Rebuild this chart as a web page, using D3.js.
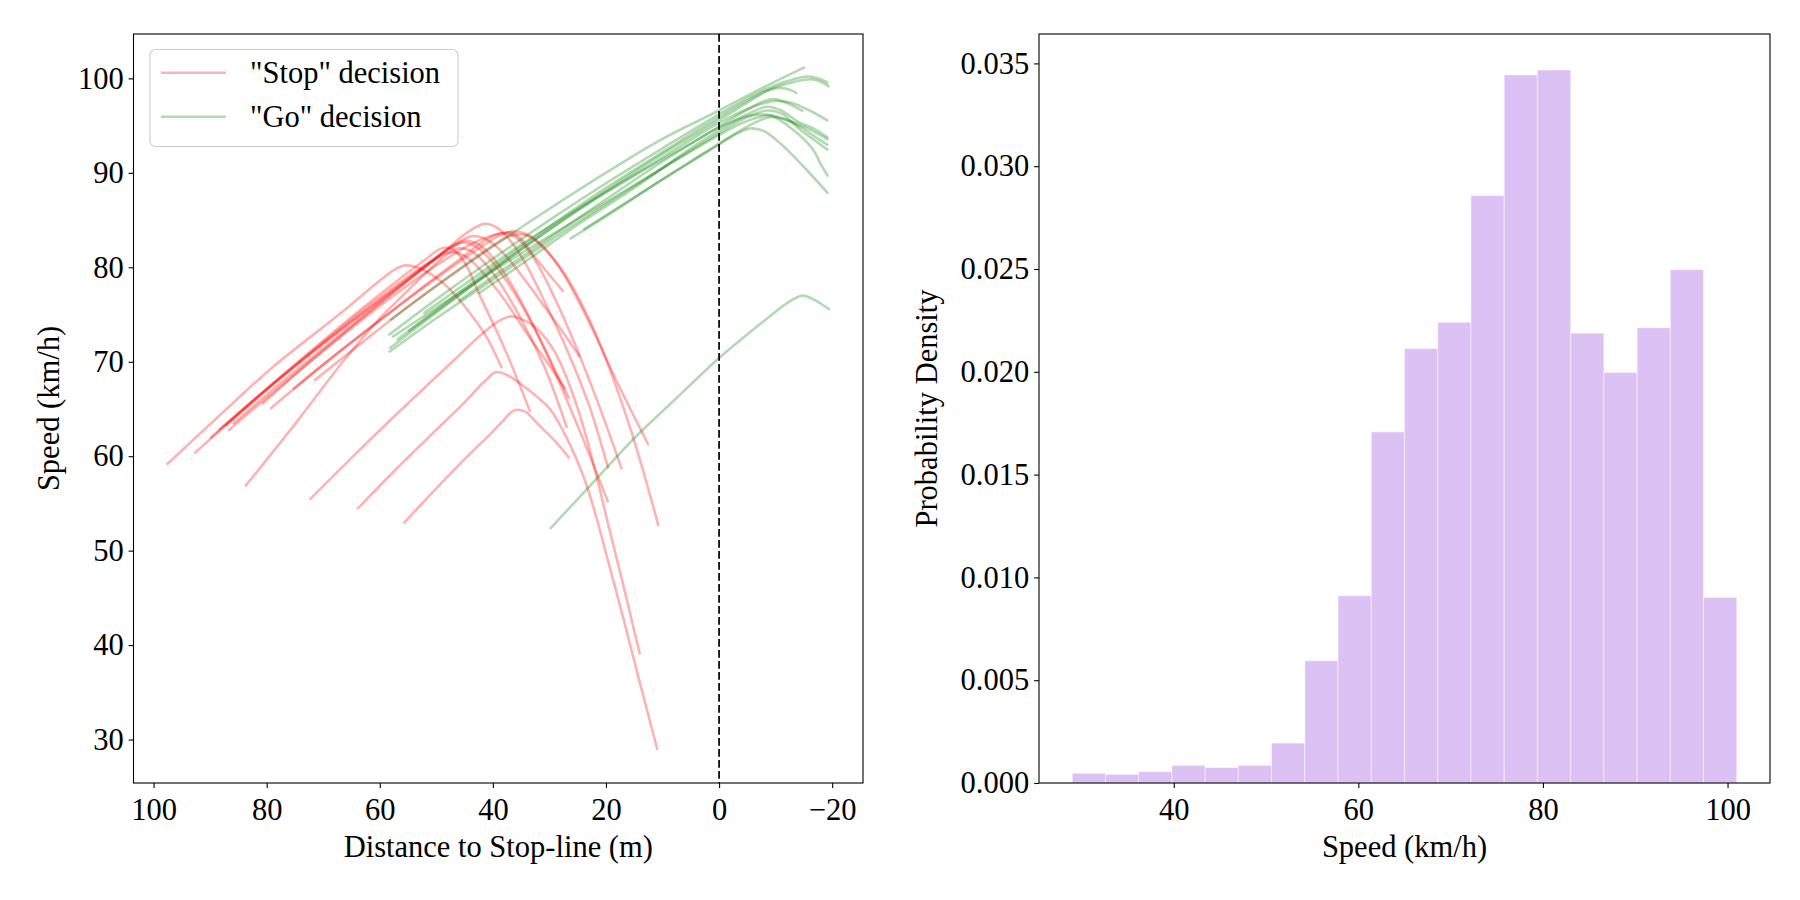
<!DOCTYPE html>
<html>
<head>
<meta charset="utf-8">
<script src="https://cdn.jsdelivr.net/npm/d3@7"></script>
<style>
body{margin:0;background:#fff;}
svg text{font-family:"Liberation Serif","Times New Roman",serif;fill:#000;}
</style>
</head>
<body>
<div id="chart"></div>
<script>
//speed profiles, each point is [distance to stop-line (m), speed (km/h)]
let stopRuns = [
	[[97.7,59.1],[88,64.5],[78.8,69.5],[67,75.1],[60,78.6],[57.5,79.7],[55.5,80.2],[53,79.9],[50,78.9],[47,77.3],[44,75.1],[41,72.5],[38.4,69.3]],
	[[92.8,60.3],[84,65.0],[74,70.2],[64,75.2],[56,79.0],[52,80.8],[49.8,81.8],[48.4,82.1],[46.8,81.8],[44.8,80.3],[42.3,77.0],[38,71.5],[33.4,64.7]],
	[[90,61.9],[82,66.1],[72,71.1],[62,75.9],[55,79.0],[51,80.6],[47.5,81.6],[45,81.2],[42,79.6],[38,76.6],[34,73.0],[30,69.6],[27.2,67.1]],
	[[88.4,62.8],[80,67.1],[70,71.9],[60,76.5],[52,80.0],[48.5,81.7],[45.5,82.6],[43,82.2],[40,80.5],[36,77.1],[32,72.8],[29,69.1],[26.5,66.1]],
	[[86.8,62.7],[78,67.2],[68,72.1],[58,76.8],[50,80.2],[44,82.4],[40,83.4],[37,83.7],[35,83.0],[33,81.4],[30,79.2],[27.5,77.4]],
	[[87.3,63.2],[79,67.5],[69,72.4],[59,77.0],[51,80.6],[46.5,82.5],[43.6,83.3],[41,82.9],[38,81.4],[34,78.4],[30,75.1],[27,72.6],[24.6,70.5]],
	[[80.8,65.5],[72,70.2],[62,75.2],[54,79.1],[48,82.0],[44.5,83.7],[41.5,84.6],[39,84.1],[36,82.1],[33.5,79.6],[31.2,76.8],[27,71.4],[23,65.4],[19.6,58.7]],
	[[79.4,65.0],[70,69.7],[60,74.4],[52,78.1],[46,80.8],[41.5,82.8],[38.5,83.6],[36,83.2],[33,81.2],[30,77.9],[26,72.6],[21.5,65.8],[17.2,58.6]],
	[[75.3,67.1],[66,71.6],[56,76.2],[48,79.7],[42,82.2],[39,83.3],[36.5,83.8],[34,83.5],[31,82.1],[27.6,79.4],[23,74.2],[18,67.8],[12.5,61.2]],
	[[71.6,68.0],[63,72.1],[54,76.3],[46,79.8],[40,82.3],[37.5,83.2],[35.5,83.5],[33,83.1],[30,81.4],[27,79.0],[22,73.2],[16,63.5],[10.7,52.6]],
	[[83.8,56.8],[75,63.4],[66,70.4],[60,74.6],[56.8,76.5],[52,79.3],[48.5,81.2],[46,82.0],[43.5,81.6],[40,79.4],[36,75.6],[31,69.6],[26.9,63.0]],
	[[72.4,55.4],[64,60.4],[55,65.6],[47,70.1],[42,72.9],[39,74.3],[36.8,74.8],[34.5,74.4],[32.2,73.5],[29,71.0],[26,66.8],[23.7,62.5],[21.5,57.5],[19.5,52.5],[17,46.5],[14,39.0]],
	[[64,54.4],[57,58.7],[50,62.8],[45,65.7],[41.5,67.9],[39.4,68.9],[37.5,68.6],[35.2,67.7],[32,66.2],[29.9,65.0],[27,62.0],[23.7,57.4],[21.6,53.3],[19.9,49.5],[17,43.0],[14,36.0],[10.9,28.9]],
	[[55.8,52.9],[50,56.6],[44,60.3],[40,62.6],[38,63.9],[36.4,64.8],[35.2,64.9],[34,64.6],[32.2,63.5],[28.7,61.4],[26.5,59.8]],
	[[86,63.4],[78,67.5],[68,72.4],[58,77.2],[51,80.5],[47.5,82.0],[45,82.8],[42.5,82.4],[39,80.3],[35,76.4],[30,70.2],[25,63.2],[19.6,55.1]]
];

let goRuns = [
	[[58.2,74.4],[50,78.0],[40,82.2],[30,86.2],[18.7,90.5],[10,93.6],[0,96.6],[-8,99.1],[-15.2,101.2]],
	[[58.5,72.8],[50,76.6],[40,80.9],[30,85.0],[20,88.9],[10,92.6],[0,96.2],[-8,98.8],[-12,99.7],[-15.8,100.2],[-18,99.9],[-19.3,99.5]],
	[[57,72.3],[50,75.5],[40,80.0],[30,84.3],[20,88.4],[10,92.2],[0,95.9],[-8,98.6],[-13,99.6],[-16.5,99.9],[-18.5,99.5],[-19.5,99.1]],
	[[58.3,71.4],[50,75.2],[40,79.7],[30,84.0],[20,88.1],[10,92.0],[0,95.6],[-6,97.8],[-9,98.8],[-10.8,99.0],[-12.5,98.8],[-13.8,98.4]],
	[[52.3,75.1],[45,78.2],[35,82.4],[25,86.2],[15,89.8],[5,93.5],[0,95.3],[-6,97.0],[-10,97.6],[-12.9,97.4],[-16,96.6],[-19.3,95.5]],
	[[46.1,76.4],[40,79.0],[30,83.1],[20,87.2],[10,91.2],[0,94.9],[-5,96.7],[-8,97.6],[-9.6,97.8],[-12,97.4],[-14.9,96.5]],
	[[42.6,77.2],[35,80.3],[25,84.5],[15,88.4],[5,92.6],[0,94.5],[-5,96.2],[-8.5,97.0],[-11,96.6],[-14,95.4],[-17,94.6],[-19.3,93.7]],
	[[57.8,72.6],[50,75.7],[40,79.6],[30,83.3],[20,86.9],[10,90.5],[0,94.0],[-5,95.5],[-9,96.1],[-11.5,95.7],[-14.3,94.9],[-17,93.8],[-19.3,92.9]],
	[[58.4,71.0],[50,74.6],[40,78.7],[30,82.8],[20,86.7],[10,90.5],[0,94.2],[-5,95.9],[-8.5,96.6],[-11,96.3],[-14.3,94.6],[-17,93.4],[-19.3,92.4]],
	[[55,73.2],[45,77.5],[35,81.9],[25,86.0],[15,89.7],[5,93.1],[0,94.8],[-5,96.0],[-9,96.1],[-13.2,94.5],[-16.7,92.4],[-17.9,91.0],[-19.3,89.6]],
	[[26.4,83.0],[20,85.4],[10,89.3],[0,93.0],[-3,94.1],[-5.5,94.7],[-8,94.4],[-11.4,92.8],[-15.5,90.3],[-19.3,87.8]],
	[[24.0,84.0],[15,87.4],[5,91.2],[0,93.1],[-5,94.9],[-9,95.9],[-12,95.6],[-16,94.6],[-19.3,93.5]],
	[[29.9,52.3],[22,57.4],[15,61.9],[7.8,66.0],[0,70.4],[-5,72.9],[-10,75.3],[-12.5,76.4],[-14.8,77.0],[-17,76.5],[-19.6,75.5]]
];

let distTicks = [100, 80, 60, 40, 20, 0, -20];
let speedTicks = [30, 40, 50, 60, 70, 80, 90, 100];

//histogram of speed
let binEdges = [29, 32.6, 36.2, 39.8, 43.4, 47, 50.6, 54.2, 57.8, 61.4, 65, 68.6, 72.2, 75.8, 79.4, 83, 86.6, 90.2, 93.8, 97.4, 101];
let densities = [0.00047, 0.00042, 0.00055, 0.00086, 0.00075, 0.00086, 0.00194, 0.00595, 0.00911, 0.01708,
	0.02113, 0.02241, 0.02857, 0.03444, 0.03468, 0.02188, 0.01997, 0.02214, 0.02497, 0.00903];
let histSpeedTicks = [40, 60, 80, 100];
let densityTicks = [0, 0.005, 0.010, 0.015, 0.020, 0.025, 0.030, 0.035];

let legendLabels = ["\"Stop\" decision", "\"Go\" decision"];


function drawChart(){

	let width = 1800;
	let height = 900;
	let fontSize = 30.5;
	let runWidth = 2.6;

	let svg = d3.select("#chart")
		.append("svg")
		.attr("width", width)
		.attr("height", height);

	//axes boxes
	let boxL = {left:133.5, right:863, top:34, bottom:783};
	let boxR = {left:1039, right:1770, top:34, bottom:783};

	//scales
	const xDist = d3.scaleLinear().domain([103.55, -25.45]).range([boxL.left, boxL.right]);
	const ySpeed = d3.scaleLinear().domain([25.4, 104.7]).range([boxL.bottom, boxL.top]);

	const xSpeed = d3.scaleLinear().domain([25.4, 104.6]).range([boxR.left, boxR.right]);
	const yDens = d3.scaleLinear().domain([0, 0.03643]).range([boxR.bottom, boxR.top]);

	//axis helper
	function styleAxis(g, bottom){
		g.select(".domain").remove();
		g.selectAll(".tick line").attr("stroke", "#000").attr("stroke-width", 1.1);
		g.selectAll(".tick text")
			.attr("font-size", fontSize)
			.attr("fill", "#000");
		if (bottom) g.selectAll(".tick text").attr("dy", "0.88em");
	}

	// ---------- left panel ----------
	let line = d3.line()
		.x((d)=>{ return xDist(d[0]); })
		.y((d)=>{ return ySpeed(d[1]); })
		.curve(d3.curveCatmullRom.alpha(0.5));

	svg.append("g")
		.attr("class", "stop-runs")
		.selectAll("path")
		.data(stopRuns)
		.enter()
		.append("path")
		.attr("d", line)
		.attr("fill", "none")
		.attr("stroke", "#ff0000")
		.attr("stroke-opacity", 0.3)
		.attr("stroke-width", runWidth);

	svg.append("g")
		.attr("class", "go-runs")
		.selectAll("path")
		.data(goRuns)
		.enter()
		.append("path")
		.attr("d", line)
		.attr("fill", "none")
		.attr("stroke", "#008000")
		.attr("stroke-opacity", 0.3)
		.attr("stroke-width", runWidth);

	//stop-line
	svg.append("line")
		.attr("x1", xDist(0))
		.attr("x2", xDist(0))
		.attr("y1", boxL.top)
		.attr("y2", boxL.bottom)
		.attr("stroke", "#000")
		.attr("stroke-width", 1.7)
		.attr("stroke-dasharray", "7.7,3.3");

	svg.append("g")
		.attr("transform", `translate(0,${boxL.bottom})`)
		.call(d3.axisBottom(xDist).tickValues(distTicks).tickSize(4.9).tickPadding(4.9).tickSizeOuter(0))
		.call((g)=>{ styleAxis(g, true); });

	svg.append("g")
		.attr("transform", `translate(${boxL.left},0)`)
		.call(d3.axisLeft(ySpeed).tickValues(speedTicks).tickSize(4.9).tickPadding(4.9).tickSizeOuter(0))
		.call((g)=>{ styleAxis(g, false); });

	svg.append("rect")
		.attr("x", boxL.left)
		.attr("y", boxL.top)
		.attr("width", boxL.right - boxL.left)
		.attr("height", boxL.bottom - boxL.top)
		.attr("fill", "none")
		.attr("stroke", "#000")
		.attr("stroke-width", 1.1);

	//legend
	let legend = svg.append("g").attr("class", "legend");
	legend.append("rect")
		.attr("x", 150)
		.attr("y", 49.5)
		.attr("width", 308)
		.attr("height", 97)
		.attr("rx", 5.5)
		.attr("fill", "#fff")
		.attr("fill-opacity", 0.8)
		.attr("stroke", "#cccccc")
		.attr("stroke-width", 1.1);

	let legendColors = ["#ff0000", "#008000"];
	legendLabels.forEach((label, i)=>{
		let yRow = 72.7 + i*44;
		legend.append("line")
			.attr("x1", 161)
			.attr("x2", 226)
			.attr("y1", yRow)
			.attr("y2", yRow)
			.attr("stroke", legendColors[i])
			.attr("stroke-opacity", 0.3)
			.attr("stroke-width", runWidth);
		legend.append("text")
			.attr("x", 250)
			.attr("y", yRow + 10.5)
			.attr("font-size", fontSize)
			.text(label);
	});

	svg.append("text")
		.attr("x", (boxL.left + boxL.right)/2)
		.attr("y", 856.5)
		.attr("text-anchor", "middle")
		.attr("font-size", fontSize)
		.text("Distance to Stop-line (m)");

	svg.append("text")
		.attr("transform", `translate(59,${(boxL.top + boxL.bottom)/2}) rotate(-90)`)
		.attr("text-anchor", "middle")
		.attr("font-size", fontSize)
		.text("Speed (km/h)");

	// ---------- right panel ----------
	let bins = densities.map((d, i)=>{ return {x0: binEdges[i], x1: binEdges[i+1], value: d}; });

	svg.append("g")
		.attr("class", "bars")
		.selectAll("rect")
		.data(bins)
		.enter()
		.append("rect")
		.attr("x", (d)=>{ return xSpeed(d.x0); })
		.attr("width", (d)=>{ return xSpeed(d.x1) - xSpeed(d.x0); })
		.attr("y", (d)=>{ return yDens(d.value); })
		.attr("height", (d)=>{ return yDens(0) - yDens(d.value); })
		.attr("fill", "#dcc1f5")
		.attr("stroke", "#ffffff")
		.attr("stroke-opacity", 0.5)
		.attr("stroke-width", 1);

	svg.append("g")
		.attr("transform", `translate(0,${boxR.bottom})`)
		.call(d3.axisBottom(xSpeed).tickValues(histSpeedTicks).tickSize(4.9).tickPadding(4.9).tickSizeOuter(0))
		.call((g)=>{ styleAxis(g, true); });

	svg.append("g")
		.attr("transform", `translate(${boxR.left},0)`)
		.call(d3.axisLeft(yDens).tickValues(densityTicks).tickFormat(d3.format(".3f")).tickSize(4.9).tickPadding(4.9).tickSizeOuter(0))
		.call((g)=>{ styleAxis(g, false); });

	svg.append("rect")
		.attr("x", boxR.left)
		.attr("y", boxR.top)
		.attr("width", boxR.right - boxR.left)
		.attr("height", boxR.bottom - boxR.top)
		.attr("fill", "none")
		.attr("stroke", "#000")
		.attr("stroke-width", 1.1);

	svg.append("text")
		.attr("x", (boxR.left + boxR.right)/2)
		.attr("y", 856.5)
		.attr("text-anchor", "middle")
		.attr("font-size", fontSize)
		.text("Speed (km/h)");

	svg.append("text")
		.attr("transform", `translate(937,${(boxR.top + boxR.bottom)/2}) rotate(-90)`)
		.attr("text-anchor", "middle")
		.attr("font-size", fontSize)
		.text("Probability Density");

} //function drawChart


drawChart();
</script>
</body>
</html>
